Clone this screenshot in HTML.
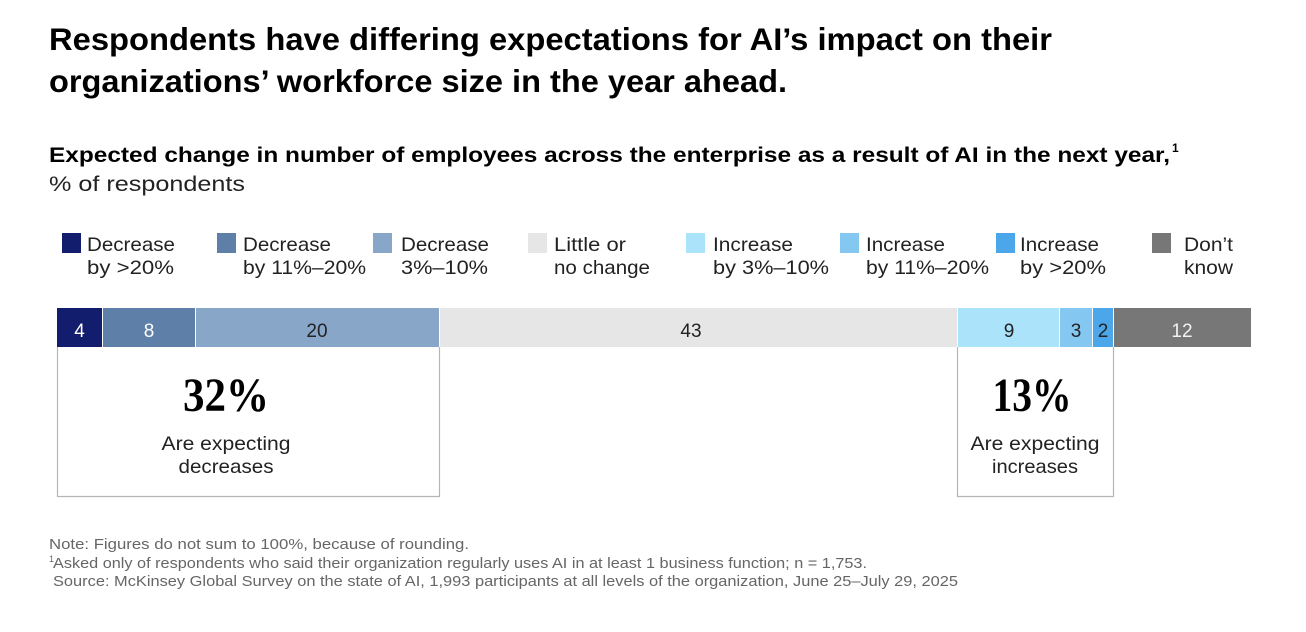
<!DOCTYPE html>
<html>
<head>
<meta charset="utf-8">
<style>
  html,body{margin:0;padding:0;background:#fff;}
  svg{display:block;}
  .t{font-family:"Liberation Sans",Arial,sans-serif;}
  .s{font-family:"Liberation Serif","Times New Roman",serif;}
</style>
</head>
<body>
<svg width="1306" height="632" viewBox="0 0 1306 632" xmlns="http://www.w3.org/2000/svg">
  <rect x="0" y="0" width="1306" height="632" fill="#fff"/>

  <!-- Title -->
  <text class="t" x="49" y="50" font-size="31.5" font-weight="bold" fill="#000" textLength="1003" lengthAdjust="spacingAndGlyphs">Respondents have differing expectations for AI’s impact on their</text>
  <text class="t" x="49" y="92" font-size="31.5" font-weight="bold" fill="#000" textLength="738" lengthAdjust="spacingAndGlyphs">organizations’ workforce size in the year ahead.</text>

  <!-- Subtitle -->
  <text class="t" x="49" y="162" font-size="21" font-weight="bold" fill="#000" textLength="1121" lengthAdjust="spacingAndGlyphs">Expected change in number of employees across the enterprise as a result of AI in the next year,</text>
  <text class="t" x="1172" y="152" font-size="12" font-weight="bold" fill="#000">1</text>
  <text class="t" x="49" y="191" font-size="21" fill="#222" textLength="196" lengthAdjust="spacingAndGlyphs">% of respondents</text>

  <!-- Legend -->
  <g class="t" font-size="19.5" fill="#222">
    <rect x="62" y="233" width="19" height="20" fill="#131d6e"/>
    <text x="87" y="251" textLength="88" lengthAdjust="spacingAndGlyphs">Decrease</text>
    <text x="87" y="274" textLength="87" lengthAdjust="spacingAndGlyphs">by &gt;20%</text>

    <rect x="217" y="233" width="19" height="20" fill="#5d7fa8"/>
    <text x="243" y="251" textLength="88" lengthAdjust="spacingAndGlyphs">Decrease</text>
    <text x="243" y="274" textLength="123" lengthAdjust="spacingAndGlyphs">by 11%–20%</text>

    <rect x="373" y="233" width="19" height="20" fill="#88a6c8"/>
    <text x="401" y="251" textLength="88" lengthAdjust="spacingAndGlyphs">Decrease</text>
    <text x="401" y="274" textLength="87" lengthAdjust="spacingAndGlyphs">3%–10%</text>

    <rect x="528" y="233" width="19" height="20" fill="#e6e6e6"/>
    <text x="554" y="251" textLength="72" lengthAdjust="spacingAndGlyphs">Little or</text>
    <text x="554" y="274" textLength="96" lengthAdjust="spacingAndGlyphs">no change</text>

    <rect x="686" y="233" width="19" height="20" fill="#abe3fb"/>
    <text x="713" y="251" textLength="80" lengthAdjust="spacingAndGlyphs">Increase</text>
    <text x="713" y="274" textLength="116" lengthAdjust="spacingAndGlyphs">by 3%–10%</text>

    <rect x="840" y="233" width="19" height="20" fill="#84c7f1"/>
    <text x="866" y="251" textLength="79" lengthAdjust="spacingAndGlyphs">Increase</text>
    <text x="866" y="274" textLength="123" lengthAdjust="spacingAndGlyphs">by 11%–20%</text>

    <rect x="996" y="233" width="19" height="20" fill="#4ba7e9"/>
    <text x="1020" y="251" textLength="79" lengthAdjust="spacingAndGlyphs">Increase</text>
    <text x="1020" y="274" textLength="86" lengthAdjust="spacingAndGlyphs">by &gt;20%</text>

    <rect x="1152" y="233" width="19" height="20" fill="#777777"/>
    <text x="1184" y="251" textLength="49" lengthAdjust="spacingAndGlyphs">Don’t</text>
    <text x="1184" y="274" textLength="49" lengthAdjust="spacingAndGlyphs">know</text>
  </g>

  <!-- Bar -->
  <g>
    <rect x="57" y="308" width="45" height="39" fill="#131d6e"/>
    <rect x="103" y="308" width="92" height="39" fill="#5d7fa8"/>
    <rect x="196" y="308" width="243" height="39" fill="#88a6c8"/>
    <rect x="440" y="308" width="517" height="39" fill="#e6e6e6"/>
    <rect x="958" y="308" width="101" height="39" fill="#abe3fb"/>
    <rect x="1060" y="308" width="32" height="39" fill="#84c7f1"/>
    <rect x="1093" y="308" width="20" height="39" fill="#4ba7e9"/>
    <rect x="1114" y="308" width="137" height="39" fill="#777777"/>
  </g>
  <g class="t" font-size="19" text-anchor="middle">
    <text x="79.5" y="337" fill="#fff">4</text>
    <text x="149" y="337" fill="#fff">8</text>
    <text x="317" y="337" fill="#222">20</text>
    <text x="691" y="337" fill="#222">43</text>
    <text x="1009" y="337" fill="#222">9</text>
    <text x="1076" y="337" fill="#222">3</text>
    <text x="1103" y="337" fill="#222">2</text>
    <text x="1182" y="337" fill="#f2f2f2">12</text>
  </g>

  <!-- Callout boxes -->
  <g fill="none" stroke="#b5b5b5" stroke-width="1.2">
    <path d="M57.5 347 V496.5 H439.5 V347"/>
    <path d="M957.5 347 V496.5 H1113.5 V347"/>
  </g>
  <text class="s" x="226" y="411" font-size="48" font-weight="bold" fill="#000" text-anchor="middle" textLength="86" lengthAdjust="spacingAndGlyphs">32%</text>
  <text class="t" x="226" y="450" font-size="19.5" fill="#222" text-anchor="middle" textLength="129" lengthAdjust="spacingAndGlyphs">Are expecting</text>
  <text class="t" x="226" y="473" font-size="19.5" fill="#222" text-anchor="middle" textLength="95" lengthAdjust="spacingAndGlyphs">decreases</text>

  <text class="s" x="1032" y="411" font-size="48" font-weight="bold" fill="#000" text-anchor="middle" textLength="79" lengthAdjust="spacingAndGlyphs">13%</text>
  <text class="t" x="1035" y="450" font-size="19.5" fill="#222" text-anchor="middle" textLength="129" lengthAdjust="spacingAndGlyphs">Are expecting</text>
  <text class="t" x="1035" y="473" font-size="19.5" fill="#222" text-anchor="middle" textLength="86" lengthAdjust="spacingAndGlyphs">increases</text>

  <!-- Notes -->
  <g class="t" font-size="15" fill="#666">
    <text x="49" y="549" textLength="420" lengthAdjust="spacingAndGlyphs">Note: Figures do not sum to 100%, because of rounding.</text>
    <text x="49" y="562" font-size="9">1</text>
    <text x="53" y="568" textLength="814" lengthAdjust="spacingAndGlyphs">Asked only of respondents who said their organization regularly uses AI in at least 1 business function; n = 1,753.</text>
    <text x="53" y="586" textLength="905" lengthAdjust="spacingAndGlyphs">Source: McKinsey Global Survey on the state of AI, 1,993 participants at all levels of the organization, June 25–July 29, 2025</text>
  </g>
</svg>
</body>
</html>
